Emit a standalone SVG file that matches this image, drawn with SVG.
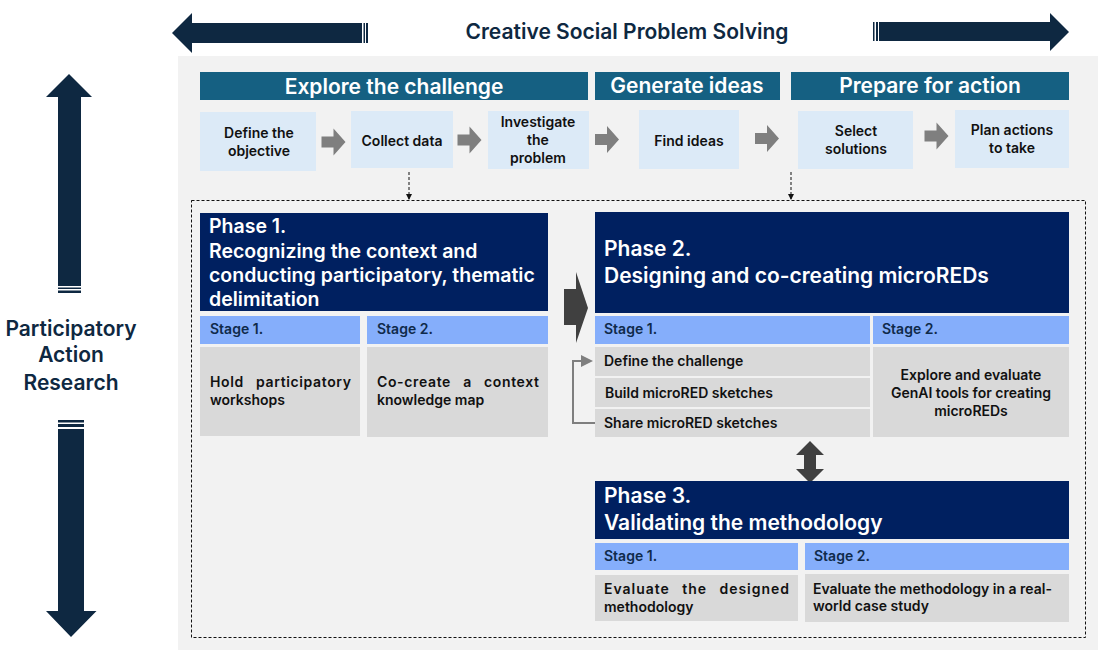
<svg xmlns="http://www.w3.org/2000/svg" width="1108" height="667" viewBox="0 0 1108 667">
<style>
text{font-family:"Inter","Liberation Sans",sans-serif;font-weight:600;fill:#111}
.big{fill:#fff;font-size:21px;text-anchor:middle}
.ph{fill:#fff;font-size:19.5px}
.step{font-size:14px;text-anchor:middle}
.st{font-size:14px;fill:#0f2a4a}
.b{font-size:14px}
.c{font-size:14px;text-anchor:middle}
.navy{fill:#0e2841}.head{fill:#156082}.blue{fill:#dceaf7}.ph-bg{fill:#002060}.stage{fill:#85aefb}.grey{fill:#d9d9d9}.ga{fill:#7f7f7f}.dk{fill:#404040}
</style>
<defs>
<marker id="tip" markerWidth="8" markerHeight="8" refX="5" refY="3" orient="auto"><path d="M0 0L6 3L0 6z" fill="#111"/></marker>
<marker id="gtip" markerWidth="8" markerHeight="8" refX="5" refY="3" orient="auto"><path d="M0 0L6 3L0 6z" fill="#7f7f7f"/></marker>
<path id="ar" class="ga" d="M0 8H12V0L24 13.500L12 27V19H0z"/>
</defs>
<rect id="panel" x="178" y="56" width="920" height="594" fill="#f2f2f2"/>
<g id="arrow-left"><path class="navy" d="M172 33L192 13V23H362V43H192V53z"/><path class="navy" d="M363.500 23H365V43H363.500zM366 23H368V43H366z"/></g>
<g id="arrow-right"><path class="navy" d="M879 22H1050V13L1069 32L1050 51V41H879z"/><path class="navy" d="M873 22H874.500V41H873zM876 22H878V41H876z"/></g>
<text id="title" x="627" y="39" font-size="21" text-anchor="middle" style="fill:#0e2841">Creative Social Problem Solving</text>
<g id="arrow-up"><path class="navy" d="M69 74L92 97H81V286H58V97H46z"/><path class="navy" d="M58 287.500H81V289H58zM58 290.500H81V293H58z"/></g>
<g id="arrow-down"><path class="navy" d="M58 429H84V611H96.500L71 637L46 611H58z"/><path class="navy" d="M58 420H84V422.500H58zM58 424H84V427H58z"/></g>
<g id="par-label"><text x="71" y="336" font-size="21" text-anchor="middle" style="fill:#0e2841">Participatory</text><text x="71" y="362" font-size="21" text-anchor="middle" style="fill:#0e2841">Action</text><text x="71" y="390" font-size="21" text-anchor="middle" style="fill:#0e2841">Research</text></g>

<g id="head-explore"><rect class="head" x="200" y="72" width="388" height="28"/><text class="big" x="394" y="94">Explore the challenge</text></g>
<g id="head-generate"><rect class="head" x="595" y="72" width="185" height="28"/><text class="big" x="687" y="93">Generate ideas</text></g>
<g id="head-prepare"><rect class="head" x="791" y="72" width="278" height="28"/><text class="big" x="930" y="93">Prepare for action</text></g>

<g id="step-define"><rect class="blue" x="200" y="112" width="116" height="59"/><text class="step" x="259" y="138">Define the</text><text class="step" x="259" y="156">objective</text></g>
<g id="step-collect"><rect class="blue" x="351" y="111" width="102" height="57"/><text class="step" x="402" y="146">Collect data</text></g>
<g id="step-investigate"><rect class="blue" x="488" y="111" width="101" height="58"/><text class="step" x="538" y="127">Investigate</text><text class="step" x="538" y="145">the</text><text class="step" x="538" y="163">problem</text></g>
<g id="step-find"><rect class="blue" x="639" y="110" width="100" height="59"/><text class="step" x="689" y="146">Find ideas</text></g>
<g id="step-select"><rect class="blue" x="798" y="111" width="115" height="58"/><text class="step" x="856" y="136">Select</text><text class="step" x="856" y="154">solutions</text></g>
<g id="step-plan"><rect class="blue" x="955" y="110" width="114" height="58"/><text class="step" x="1012" y="135">Plan actions</text><text class="step" x="1012" y="153">to take</text></g>

<g id="connectors">
<use href="#ar" x="321.500" y="128.500"/><use href="#ar" x="457.500" y="126.500"/><use href="#ar" x="595" y="126"/><use href="#ar" x="755" y="125"/><use href="#ar" x="924.500" y="122.500"/>
<path d="M409 172V199" fill="none" stroke="#111" stroke-dasharray="3 2" marker-end="url(#tip)"/>
<path d="M791 172V199" fill="none" stroke="#111" stroke-dasharray="3 2" marker-end="url(#tip)"/>
<path class="dk" d="M564 289H576V272L588 308L576 343V325H564z"/>
<path d="M595 423H573V361H591" fill="none" stroke="#7f7f7f" stroke-width="2" marker-end="url(#gtip)"/>
<path class="dk" d="M810 441L824 455H816V469H824L810 483L796 469H804V455H796z"/>
</g>
<rect id="frame" x="191.500" y="200.500" width="894" height="437" fill="none" stroke="#111" stroke-dasharray="3 2"/>

<g id="phase1"><rect class="ph-bg" x="200" y="213" width="348" height="98"/><text class="ph" x="209" y="233">Phase 1.</text><text class="ph" x="209" y="258">Recognizing the context and</text><text class="ph" x="209" y="282">conducting participatory, thematic</text><text class="ph" x="209" y="306">delimitation</text></g>
<g id="p1s1"><rect class="stage" x="200" y="316" width="160" height="28"/><text class="st" x="210" y="334">Stage  1.</text></g>
<g id="p1s2"><rect class="stage" x="367" y="316" width="181" height="28"/><text class="st" x="377" y="334">Stage 2.</text></g>
<g id="p1c1"><rect class="grey" x="200" y="347" width="160" height="89"/><text class="b" x="210" y="387" textLength="141" lengthAdjust="spacing" style="word-spacing:8px">Hold participatory</text><text class="b" x="210" y="405">workshops</text></g>
<g id="p1c2"><rect class="grey" x="367" y="347" width="181" height="90"/><text class="b" x="377" y="387" textLength="162" style="word-spacing:8px">Co-create a context</text><text class="b" x="377" y="405">knowledge map</text></g>

<g id="phase2"><rect class="ph-bg" x="595" y="212" width="474" height="101"/><text x="604" y="256" class="ph" font-size="21" style="font-size:21px">Phase 2.</text><text x="604" y="283" class="ph" style="font-size:21px">Designing and co-creating microREDs</text></g>
<g id="p2s1"><rect class="stage" x="595" y="316" width="275" height="28"/><text class="st" x="604" y="334">Stage 1.</text></g>
<g id="p2s2"><rect class="stage" x="873" y="316" width="196" height="28"/><text class="st" x="882" y="334">Stage 2.</text></g>
<g id="p2c1"><rect class="grey" x="595" y="347" width="275" height="29"/><text class="b" x="604" y="366">Define the challenge</text></g>
<g id="p2c2"><rect class="grey" x="595" y="378" width="275" height="29"/><text class="b" x="605" y="398">Build microRED sketches</text></g>
<g id="p2c3"><rect class="grey" x="595" y="409" width="275" height="28"/><text class="b" x="604" y="428">Share microRED sketches</text></g>
<g id="p2c4"><rect class="grey" x="873" y="347" width="196" height="90"/><text class="c" x="971" y="380">Explore and evaluate</text><text class="c" x="971" y="398">GenAI tools for creating</text><text class="c" x="971" y="416">microREDs</text></g>

<g id="phase3"><rect class="ph-bg" x="595" y="481" width="474" height="58"/><text class="ph" x="604" y="503" style="font-size:21px">Phase 3.</text><text class="ph" x="604" y="530" style="font-size:21px">Validating the methodology</text></g>
<g id="p3s1"><rect class="stage" x="595" y="543" width="203" height="27"/><text class="st" x="604" y="561">Stage 1.</text></g>
<g id="p3s2"><rect class="stage" x="805" y="543" width="264" height="27"/><text class="st" x="814" y="561">Stage 2.</text></g>
<g id="p3c1"><rect class="grey" x="595" y="575" width="203" height="46"/><text class="b" x="604" y="594" textLength="185" style="word-spacing:8px">Evaluate the designed</text><text class="b" x="604" y="612">methodology</text></g>
<g id="p3c2"><rect class="grey" x="805" y="574" width="264" height="48"/><text class="b" x="813" y="594">Evaluate the methodology in a real-</text><text class="b" x="813" y="611">world case study</text></g>
</svg>
